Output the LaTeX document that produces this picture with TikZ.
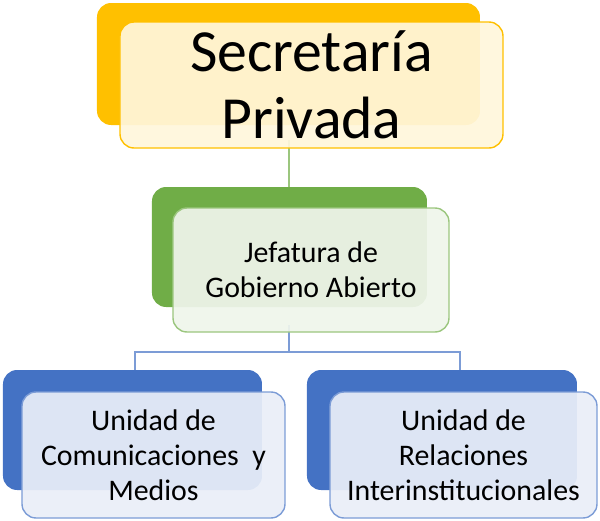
\documentclass[tikz,border=0pt]{standalone}
\usepackage{fontspec}
\setmainfont{Carlito}
\usetikzlibrary{positioning}
\definecolor{orgA}{HTML}{FFC000}
\definecolor{orgB}{HTML}{FFF6DB}
\definecolor{grnA}{HTML}{70AD47}
\definecolor{grnB}{HTML}{EFF5EB}
\definecolor{bluA}{HTML}{4472C4}
\definecolor{bluB}{HTML}{E9EEF8}
\begin{document}
\begin{tikzpicture}[x=0.02cm, y=-0.02cm,
    back/.style={rounded corners=8pt},
    front/.style={draw, thick, rounded corners=8pt, fill opacity=0.93, text opacity=1, align=center},
    link/.style={thick}
]
    \useasboundingbox (0,0) rectangle (600,521);
    % Conectores
    \coordinate (hub) at (289,352);
    \draw[link, grnA!70] (289,140) -- (289,215);
    \draw[link, bluA!70] (289,325) -- (hub);
    \draw[link, bluA!70] (135,400) |- (hub) -| (460,400);

    % Secretaria
    \fill[back, orgA] (97,3) rectangle (480,125);
    \node[front, draw=orgA, fill=orgB, minimum width=383*0.02cm, minimum height=126*0.02cm,
          font=\fontsize{34}{38}\selectfont] (sec) at (311.5,85) {Secretaría\\Privada};

    % Jefatura
    \fill[back, grnA] (152,187) rectangle (427,307);
    \node[front, draw=grnA!70, fill=grnB, minimum width=276*0.02cm, minimum height=124*0.02cm,
          font=\fontsize{17}{20}\selectfont] (jef) at (311,270) {Jefatura de\\Gobierno Abierto};

    % Unidades
    \fill[back, bluA] (3,370) rectangle (262,490);
    \node[front, draw=bluA!70, fill=bluB, minimum width=263*0.02cm, minimum height=126*0.02cm,
          font=\fontsize{17}{20}\selectfont] (com) at (153.5,455) {Unidad de\\Comunicaciones~ y\\Medios};
    \fill[back, bluA] (307,370) rectangle (577,490);
    \node[front, draw=bluA!70, fill=bluB, minimum width=267*0.02cm, minimum height=126*0.02cm,
          font=\fontsize{17}{20}\selectfont] (rel) at (463.5,455) {Unidad de\\Relaciones\\Interinstitucionales};
\end{tikzpicture}
\end{document}
